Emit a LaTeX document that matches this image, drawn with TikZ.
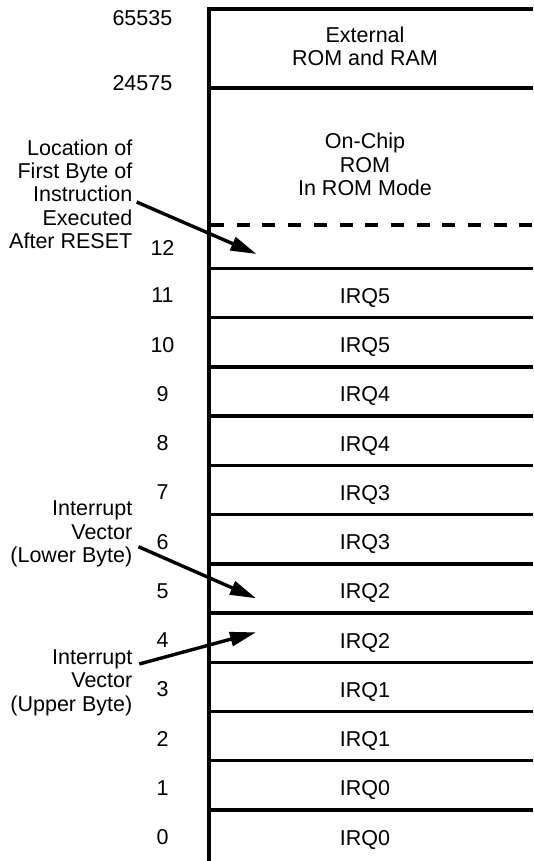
\documentclass[tikz,border=0pt]{standalone}
\usepackage{fontspec}
\setmainfont{Liberation Sans}
\usetikzlibrary{arrows.meta}
\begin{document}
\begin{tikzpicture}[x=1pt,y=-1pt,
  lbl/.style={font=\fontsize{21.5}{23.3}\selectfont, inner sep=0pt},
  frameline/.style={line width=4pt, line join=miter},
  rowline/.style={line width=3.4pt},
  dashline/.style={line width=3.5pt, dash pattern=on 13pt off 12.7pt},
  pointer/.style={line width=3.4pt, -{Triangle[length=26pt,width=14pt]}}
]
\useasboundingbox (0,0) rectangle (533,861);
% frame
\draw[frameline] (208.7,861) -- (208.7,9) -- (533,9);
\draw[rowline] (206.5,88) -- (533,88);
\draw[dashline] (211,225) -- (533,225);
% rows
\foreach \k in {0,...,11}{
  \pgfmathsetmacro{\top}{810-49.23*\k}
  \pgfmathtruncatemacro{\q}{\k/2}
  \draw[rowline] (206.5,\top) -- (533,\top);
  \node[lbl, anchor=base] (num\k) at (162.5,\top+34.5) {\k};
  \node[lbl, anchor=base] (irq\k) at (365,\top+35) {IRQ\q};
}
% upper region labels
\node[lbl, anchor=base east] (n65535) at (172.5,26) {65535};
\node[lbl, anchor=base east] (n24575) at (172.5,90.7) {24575};
\node[lbl, anchor=base] (num12) at (162.5,255) {12};
\node[lbl, anchor=north, align=center] (ext) at (365,26.3) {External\\ROM and RAM};
\node[lbl, anchor=north, align=center] (onchip) at (365,133) {On-Chip\\ROM\\In ROM Mode};
% left labels
\node[lbl, anchor=north east, align=right] (reset) at (132.5,139.4)
  {Location of\\First Byte of\\Instruction\\Executed\\After RESET};
\node[lbl, anchor=north east, align=right] (lower) at (132.5,501)
  {Interrupt\\Vector\\(Lower Byte)};
\node[lbl, anchor=north east, align=right] (upper) at (132.5,649.5)
  {Interrupt\\Vector\\(Upper Byte)};
% pointer ends
\coordinate (resetS) at (136.7,202);
\coordinate (resetT) at (256.5,254);
\coordinate (lowerS) at (138.5,546.7);
\coordinate (lowerT) at (256,598.3);
\coordinate (upperS) at (139.3,664);
\coordinate (upperT) at (256,632.3);
\draw[pointer] (resetS) -- (resetT);
\draw[pointer] (lowerS) -- (lowerT);
\draw[pointer] (upperS) -- (upperT);
\end{tikzpicture}
\end{document}
